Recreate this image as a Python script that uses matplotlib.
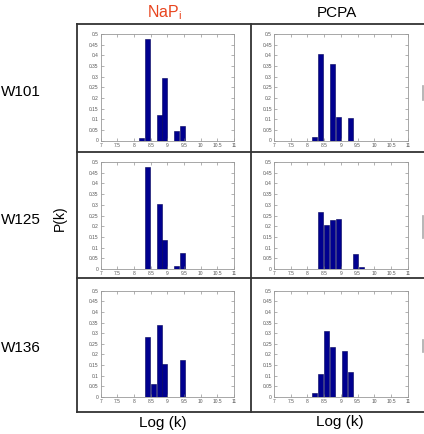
import numpy as np
import matplotlib
matplotlib.use("Agg")
import matplotlib.pyplot as plt
from matplotlib.lines import Line2D

plt.rcParams['font.family'] = ['Liberation Sans', 'DejaVu Sans']

# bin centres of log(k) histogram
centers = [8.22, 8.40, 8.575, 8.75, 8.925, 9.10, 9.275, 9.45, 9.63]

napi_w101 = [0.011, 0.475, 0, 0.12, 0.293, 0, 0.045, 0.066, 0]
pcpa_w101 = [0.017, 0.406, 0, 0.357, 0.112, 0, 0.107, 0, 0]
napi_w125 = [0, 0.475, 0, 0.305, 0.134, 0, 0.016, 0.073, 0]
pcpa_w125 = [0, 0.267, 0.204, 0.228, 0.234, 0, 0, 0.072, 0.008]
napi_w136 = [0, 0.28, 0.059, 0.339, 0.153, 0, 0, 0.175, 0]
pcpa_w136 = [0.017, 0.108, 0.31, 0.236, 0, 0.215, 0.116, 0, 0]

rows = ["W101", "W125", "W136"]
cols = ["NaP", "PCPA"]
panels = [[napi_w101, pcpa_w101],
          [napi_w125, pcpa_w125],
          [napi_w136, pcpa_w136]]

xticks = [7, 7.5, 8, 8.5, 9, 9.5, 10, 10.5, 11]
yticks = [0, 0.05, 0.1, 0.15, 0.2, 0.25, 0.3, 0.35, 0.4, 0.45, 0.5]

W, H = 424, 434
fig = plt.figure(figsize=(W / 100, H / 100), dpi=100)

def px(x0, y0, x1, y1):
    # pixel box (top-left origin) -> figure fraction rect
    return [x0 / W, (H - y1) / H, (x1 - x0) / W, (y1 - y0) / H]

col_x = [(100.7, 234), (274, 407.7)]
row_y = [(34, 140.5), (162, 269), (290.7, 397)]

for r in range(3):
    for c in range(2):
        ax = fig.add_axes(px(col_x[c][0], row_y[r][0], col_x[c][1], row_y[r][1]))
        ax.bar(centers, panels[r][c], width=0.15, color='#00008f',
               edgecolor='#00005a', linewidth=0.4)
        ax.set_xlim(7, 11)
        ax.set_ylim(0, 0.5)
        ax.set_xticks(xticks)
        ax.set_xticklabels([f"{t:g}" for t in xticks])
        ax.set_yticks(yticks)
        ax.set_yticklabels([f"{t:g}" for t in yticks])
        ax.tick_params(direction='in', length=2, width=0.4, labelsize=3.5,
                       pad=1.5, colors='#777777', labelcolor='#555555',
                       top=True, right=True)
        for s in ax.spines.values():
            s.set_color('#999999')
            s.set_linewidth(0.6)

# outer grid box
def fline(x0, y0, x1, y1, lw=1.3, color='#333333'):
    fig.add_artist(Line2D([x0 / W, x1 / W], [(H - y0) / H, (H - y1) / H],
                          color=color, linewidth=lw))

fline(77, 24, 430, 24)
fline(77, 412, 430, 412)
fline(77, 24, 77, 412)
fline(251, 24, 251, 412)
fline(77, 152, 430, 152)
fline(77, 278, 430, 278)
# edge of cut-off column
for y0, y1 in [(86, 100), (216, 238), (340, 352)]:
    fline(422.5, y0, 422.5, y1, lw=1.2, color='#aaaaaa')

# titles
fig.text(165 / W, 1 - 13 / H, r"NaP$_\mathregular{i}$", color='#e8451f',
         fontsize=11.5, ha='center', va='center')
fig.text(337 / W, 1 - 13 / H, "PCPA", color='black',
         fontsize=11, ha='center', va='center')

for lab, yc in zip(rows, [92, 220, 348]):
    fig.text(0.5 / W, 1 - yc / H, lab, fontsize=11, ha='left', va='center')

fig.text(60 / W, 1 - 218 / H, "P(k)", fontsize=10, rotation=90,
         ha='center', va='center')
fig.text(163 / W, 1 - 423 / H, "Log (k)", fontsize=11, ha='center', va='center')
fig.text(340 / W, 1 - 422 / H, "Log (k)", fontsize=11, ha='center', va='center')

fig.savefig("out.png", dpi=100)
